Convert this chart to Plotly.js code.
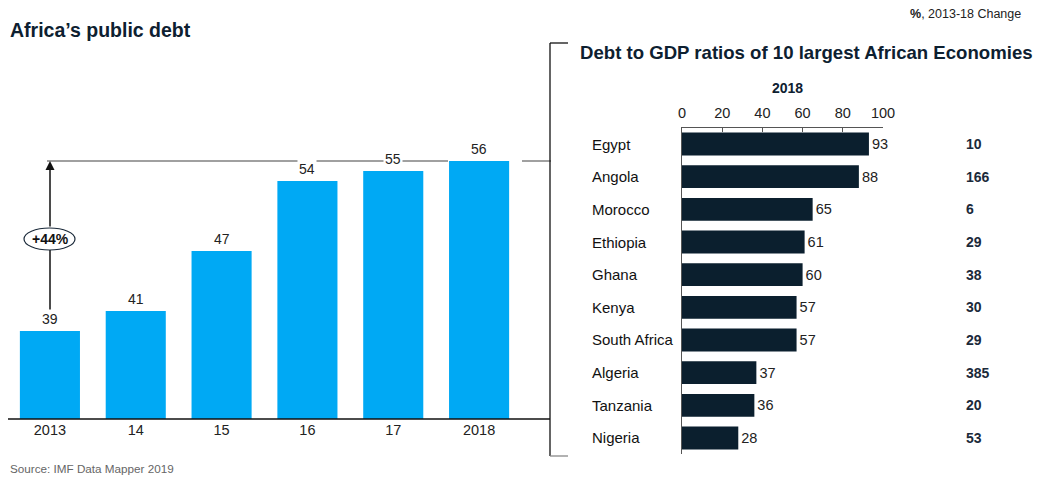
<!DOCTYPE html>
<html><head><meta charset="utf-8">
<script src="https://cdn.plot.ly/plotly-3.0.1.min.js"></script>
<style>html,body{margin:0;padding:0;background:#fff}</style>
</head><body>
<div id="chart" style="width:1045px;height:479px"></div>
<script>
// Data
const years = ["2013", "14", "15", "16", "17", "2018"];
const africaDebt = [39, 41, 47, 54, 55, 56];
const countries = ["Egypt", "Angola", "Morocco", "Ethiopia", "Ghana", "Kenya", "South Africa", "Algeria", "Tanzania", "Nigeria"];
const debt2018 = [93, 88, 65, 61, 60, 57, 57, 37, 36, 28];
const change1318 = [10, 166, 6, 29, 38, 30, 29, 385, 20, 53];
const xTicks2 = [0, 20, 40, 60, 80, 100];

const W = 1045, H = 479;
const px = x => x / W;
const py = y => 1 - y / H;
const FONT = "Liberation Sans, Arial, sans-serif";
const NAVY = "#0b1f2e";

const traces = [
  {type: "bar", x: years, y: africaDebt, xaxis: "x", yaxis: "y",
   marker: {color: "#00a9f4"}, hoverinfo: "none"},
  {type: "bar", orientation: "h", x: debt2018, y: countries, xaxis: "x2", yaxis: "y2",
   marker: {color: NAVY}, text: debt2018.map(String), textposition: "outside",
   textfont: {family: FONT, size: 14.5, color: "#222"}, cliponaxis: false, hoverinfo: "none"}
];

const annotations = [];
// left bar labels
years.forEach((yr, i) => {
  annotations.push({x: i, y: africaDebt[i], xref: "x", yref: "y", text: String(africaDebt[i]),
    showarrow: false, yanchor: "bottom", yshift: 2, bgcolor: "#fff", borderpad: 1,
    font: {family: FONT, size: 14, color: "#222"}});
});
// country names and change column
countries.forEach((c, i) => {
  annotations.push({x: px(590), y: c, xref: "paper", yref: "y2", text: c, showarrow: false,
    xanchor: "left", font: {family: FONT, size: 15, color: "#111"}});
  annotations.push({x: px(964), y: c, xref: "paper", yref: "y2", text: "<b>" + change1318[i] + "</b>",
    showarrow: false, xanchor: "left", font: {family: FONT, size: 14, color: "#1b2a3a"}});
});
// titles and labels
annotations.push(
  {x: px(8), y: py(30), xref: "paper", yref: "paper", xanchor: "left", yanchor: "middle", showarrow: false,
   text: "<b>Africa’s public debt</b>", font: {family: FONT, size: 19.5, color: "#0d2030"}},
  {x: px(578), y: py(52), xref: "paper", yref: "paper", xanchor: "left", yanchor: "middle", showarrow: false,
   text: "<b>Debt to GDP ratios of 10 largest African Economies</b>", font: {family: FONT, size: 18.6, color: "#0d2030"}},
  {x: px(1023), y: py(14), xref: "paper", yref: "paper", xanchor: "right", yanchor: "middle", showarrow: false,
   text: "<b>%</b>, 2013-18 Change", font: {family: FONT, size: 12.5, color: "#222"}},
  {x: px(787), y: py(88), xref: "paper", yref: "paper", xanchor: "center", yanchor: "middle", showarrow: false,
   text: "<b>2018</b>", font: {family: FONT, size: 14, color: "#0d2030"}},
  {x: px(8), y: py(468), xref: "paper", yref: "paper", xanchor: "left", yanchor: "middle", showarrow: false,
   text: "Source: IMF Data Mapper 2019", font: {family: FONT, size: 11.7, color: "#666"}},
  {x: px(50), y: py(239), xref: "paper", yref: "paper", xanchor: "center", yanchor: "middle", showarrow: false,
   text: "<b>+44%</b>", font: {family: FONT, size: 14, color: "#111"}},
  // arrow head
  {x: px(50), y: py(161), xref: "paper", yref: "paper", ax: px(50), ay: py(228), axref: "paper", ayref: "paper",
   showarrow: true, arrowhead: 2, arrowsize: 1.2, arrowwidth: 1.5, arrowcolor: "#111", text: ""}
);

const shapes = [
  // horizontal connector line at top (interrupted by the 2018 bar)
  {type: "line", xref: "paper", yref: "paper", x0: px(47), x1: px(448), y0: py(161), y1: py(161),
   line: {color: "#808080", width: 1.5}, layer: "below"},
  {type: "line", xref: "paper", yref: "paper", x0: px(522), x1: px(551), y0: py(161), y1: py(161),
   line: {color: "#808080", width: 1.5}, layer: "below"},
  // left axis line extended into bracket
  {type: "line", xref: "paper", yref: "paper", x0: px(8), x1: px(550), y0: py(419), y1: py(419),
   line: {color: "#111", width: 1.3}},
  // bracket vertical
  {type: "line", xref: "paper", yref: "paper", x0: px(550), x1: px(550), y0: py(43), y1: py(456),
   line: {color: "#111", width: 1.3}},
  {type: "line", xref: "paper", yref: "paper", x0: px(550), x1: px(568), y0: py(43), y1: py(43),
   line: {color: "#111", width: 1.3}},
  {type: "line", xref: "paper", yref: "paper", x0: px(550), x1: px(568), y0: py(456), y1: py(456),
   line: {color: "#888", width: 1.3}},
  // arrow shaft lower
  {type: "line", xref: "paper", yref: "paper", x0: px(50), x1: px(50), y0: py(250), y1: py(310),
   line: {color: "#111", width: 1.5}},
  // ellipse
  {type: "circle", xref: "paper", yref: "paper", x0: px(24), x1: px(75), y0: py(228), y1: py(250),
   line: {color: "#1b2a3a", width: 1.2}, fillcolor: "#fff"}
];

const layout = {
  width: W, height: H, margin: {l: 0, r: 0, t: 0, b: 0},
  paper_bgcolor: "#fff", plot_bgcolor: "rgba(0,0,0,0)",
  showlegend: false, bargap: 0.3,
  font: {family: FONT, color: "#222"},
  xaxis: {domain: [px(7), px(522)], type: "category", range: [-0.5, 5.5], showline: false,
          showgrid: false, zeroline: false, ticks: "", tickfont: {family: FONT, size: 14.5, color: "#222"},
          fixedrange: true},
  yaxis: {domain: [py(419), py(43)], range: [30.2, 67.8], showticklabels: false, showline: false,
          showgrid: false, zeroline: false, ticks: "", fixedrange: true},
  xaxis2: {domain: [px(682), px(883)], anchor: "y2", side: "top", range: [0, 100], tickvals: xTicks2,
           ticks: "inside", ticklen: 4, tickcolor: "#555", showline: true, linecolor: "#555", linewidth: 1,
           ticklabelstandoff: 3,
           showgrid: false, zeroline: false, tickfont: {family: FONT, size: 14.5, color: "#222"}, fixedrange: true},
  yaxis2: {domain: [py(454.3), py(127.7)], anchor: "x2", type: "category", autorange: "reversed",
           showticklabels: false, ticks: "", showline: true, linecolor: "#555", linewidth: 1.5,
           showgrid: false, zeroline: false, fixedrange: true},
  annotations: annotations,
  shapes: shapes
};

Plotly.newPlot("chart", traces, layout, {displayModeBar: false, staticPlot: true});
</script>
</body></html>
